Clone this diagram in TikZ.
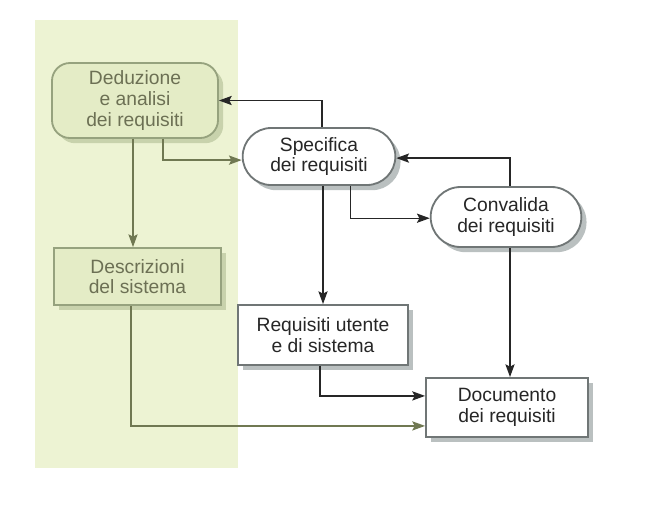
\documentclass[tikz,border=0pt]{standalone}
\usepackage{fontspec}
\setmainfont{Liberation Sans}
\usepackage{tikz}
\usetikzlibrary{arrows,arrows.meta,shapes.misc,shadows}
\definecolor{bggreen}{RGB}{237,243,211}
\definecolor{boxgreen}{RGB}{228,236,198}
\definecolor{edgegreen}{RGB}{150,162,126}
\definecolor{textgreen}{RGB}{108,112,84}
\definecolor{linegreen}{RGB}{112,120,82}
\definecolor{shadegreen}{RGB}{200,210,172}
\definecolor{edgegrey}{RGB}{112,118,118}
\definecolor{shadegrey}{RGB}{186,192,192}
\tikzset{
  txt/.style={align=center,font=\fontsize{13.7}{14.6}\selectfont,text=black!85},
  pill/.style={txt,rounded rectangle,draw=edgegrey,line width=1.3pt,fill=white,
    drop shadow={shadow xshift=0.13cm,shadow yshift=-0.13cm,fill=shadegrey,opacity=1}},
  doc/.style={txt,rectangle,draw=edgegrey,line width=1.3pt,fill=white,
    drop shadow={shadow xshift=0.13cm,shadow yshift=-0.13cm,fill=shadegrey,opacity=1}},
  gpill/.style={txt,rectangle,rounded corners=0.45cm,draw=edgegreen,line width=1.3pt,fill=boxgreen,text=textgreen,
    drop shadow={shadow xshift=0.13cm,shadow yshift=-0.13cm,fill=shadegreen,opacity=1}},
  gdoc/.style={txt,rectangle,draw=edgegreen,line width=1.3pt,fill=boxgreen,text=textgreen,
    drop shadow={shadow xshift=0.13cm,shadow yshift=-0.13cm,fill=shadegreen,opacity=1}},
  arr/.style={-{Stealth[length=3.2mm,width=2.3mm,inset=0.6mm]},line width=1pt,black!85},
  garr/.style={arr,linegreen}
}
\begin{document}
\begin{tikzpicture}[x=0.025cm,y=-0.025cm,semithick]
\useasboundingbox (0,0) rectangle (648,516);
\fill[bggreen] (35,20) rectangle (238,468);
\node[gpill,minimum width=4.15cm,minimum height=1.875cm] (ded) at (135,100.5) {Deduzione\\e analisi\\dei requisiti};
\node[pill,minimum width=4.05cm,minimum height=1.425cm] (spec) at (319,156.5) {Specifica\\dei requisiti};
\node[pill,minimum width=4cm,minimum height=1.5cm] (conv) at (506,217) {Convalida\\dei requisiti};
\node[gdoc,minimum width=4.175cm,minimum height=1.425cm] (descr) at (137.5,276.5) {Descrizioni\\del sistema};
\node[doc,minimum width=4.25cm,minimum height=1.5cm] (req) at (323,335) {Requisiti utente\\e di sistema};
\node[doc,minimum width=4.05cm,minimum height=1.475cm] (docu) at (507,407.5) {Documento\\dei requisiti};
\draw[arr] ([xshift=0.075cm]spec.north) |- (ded.east);
\draw[garr] ([xshift=0.7cm]ded.south) |- ([yshift=-0.09cm]spec.west);
\draw[garr] ([xshift=-0.05cm]ded.south) -- ([xshift=-0.05cm]ded.south |- descr.north);
\draw[arr] (req.north |- spec.south) -- (req.north);
\draw[arr] ([xshift=0.78cm]spec.south) |- ([yshift=-0.03cm]conv.west);
\draw[arr] ([xshift=0.1cm]conv.north) |- ([yshift=-0.04cm]spec.east);
\draw[arr] ([xshift=0.1cm]conv.south) -- ([xshift=0.1cm]conv.south |- docu.north);
\draw[arr] ([xshift=-0.08cm]req.south) |- ([yshift=0.29cm]docu.west);
\draw[garr] ([xshift=-0.16cm]descr.south) |- ([yshift=-0.46cm]docu.west);
\end{tikzpicture}
\end{document}
